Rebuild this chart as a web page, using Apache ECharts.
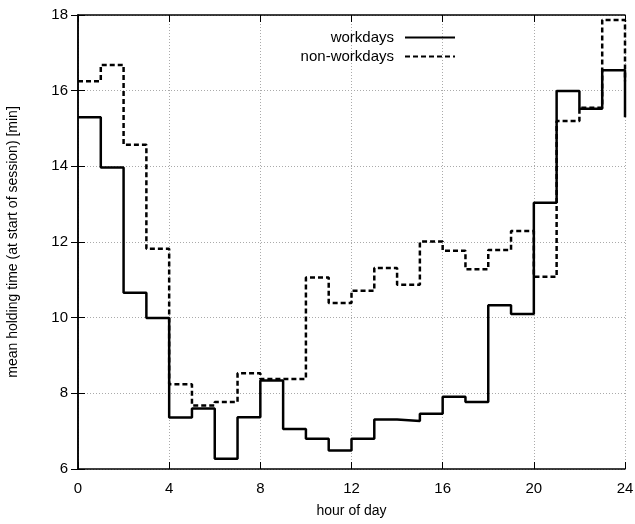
<!DOCTYPE html>
<html>
<head>
<meta charset="utf-8">
<script src="https://cdn.jsdelivr.net/npm/echarts@6/dist/echarts.min.js"></script>
<style>
  html, body { margin: 0; padding: 0; background: #fff; }
  #chart { width: 635px; height: 524px; }
</style>
</head>
<body>
<div id="chart"></div>
<script>
// Mean holding time per hour of day (value for hour h covers [h, h+1))
const hours = [0,1,2,3,4,5,6,7,8,9,10,11,12,13,14,15,16,17,18,19,20,21,22,23];
const workdays = [15.30, 13.97, 10.66, 9.99, 7.36, 7.60, 6.27, 7.37, 8.34, 7.06, 6.80, 6.49,
                  6.80, 7.31, 7.27, 7.46, 7.91, 7.77, 10.33, 10.10, 13.04, 15.99, 15.52, 16.54];
const nonWorkdays = [16.25, 16.68, 14.57, 11.82, 8.24, 7.68, 7.77, 8.53, 8.38, 8.38, 11.06, 10.39,
                     10.71, 11.31, 10.87, 12.01, 11.77, 11.28, 11.79, 12.29, 11.08, 15.20, 15.55, 17.87];
const xTicks = [0, 4, 8, 12, 16, 20, 24];
const yTicks = [6, 8, 10, 12, 14, 16, 18];

// The day wraps around: hour 24 repeats hour 0
function stepPoints(vals) {
  const pts = hours.map((h, i) => [h, vals[i]]);
  pts.push([24, vals[0]]);
  return pts;
}

const font = '"Liberation Sans", Arial, sans-serif';
const gridLine = { show: true, lineStyle: { color: '#aaa', type: [1, 2], width: 1 } };
const frame = { show: true, lineStyle: { color: '#000', width: 1.5 } };
const inTick = { show: true, inside: true, length: 7, lineStyle: { color: '#000', width: 1 } };

const chart = echarts.init(document.getElementById('chart'), null, { renderer: 'canvas' });
chart.setOption({
  animation: false,
  backgroundColor: '#fff',
  textStyle: { fontFamily: font },
  grid: { left: 78, right: 10, top: 15, bottom: 55, containLabel: false, outerBoundsMode: 'none' },
  legend: {
    orient: 'vertical',
    align: 'right',
    right: 174,
    top: 25,
    itemWidth: 50,
    itemHeight: 14,
    itemGap: 4,
    itemStyle: { opacity: 0 },
    textStyle: { fontFamily: font, fontSize: 15, color: '#000', padding: [0, 6, 0, 0] },
    data: ['workdays', 'non-workdays']
  },
  xAxis: [{
    type: 'value', min: xTicks[0], max: xTicks[xTicks.length - 1], interval: 4,
    name: 'hour of day', nameLocation: 'middle', nameGap: 35,
    nameTextStyle: { fontFamily: font, fontSize: 14, color: '#000' },
    axisLine: frame,
    axisTick: inTick,
    axisLabel: { fontFamily: font, fontSize: 15, color: '#000', margin: 12 },
    splitLine: gridLine
  }, {
    type: 'value', position: 'top', min: xTicks[0], max: xTicks[xTicks.length - 1], interval: 4,
    axisLine: frame,
    axisTick: inTick,
    axisLabel: { show: false },
    splitLine: { show: false }
  }],
  yAxis: [{
    type: 'value', min: yTicks[0], max: yTicks[yTicks.length - 1], interval: 2,
    name: 'mean holding time (at start of session) [min]', nameLocation: 'middle', nameGap: 58,
    nameTextStyle: { fontFamily: font, fontSize: 14, color: '#000' },
    axisLine: frame,
    axisTick: inTick,
    axisLabel: { fontFamily: font, fontSize: 15, color: '#000', margin: 10 },
    splitLine: gridLine
  }, {
    type: 'value', position: 'right', min: yTicks[0], max: yTicks[yTicks.length - 1], interval: 2,
    axisLine: frame,
    axisTick: inTick,
    axisLabel: { show: false },
    splitLine: { show: false }
  }],
  series: [{
    name: 'workdays', type: 'line', step: 'end', symbol: 'none',
    color: '#000',
    lineStyle: { color: '#000', width: 2.5, type: 'solid' },
    data: stepPoints(workdays)
  }, {
    name: 'non-workdays', type: 'line', step: 'end', symbol: 'none',
    color: '#000',
    lineStyle: { color: '#000', width: 2.5, type: [5, 3] },
    data: stepPoints(nonWorkdays)
  }]
});
</script>
</body>
</html>
